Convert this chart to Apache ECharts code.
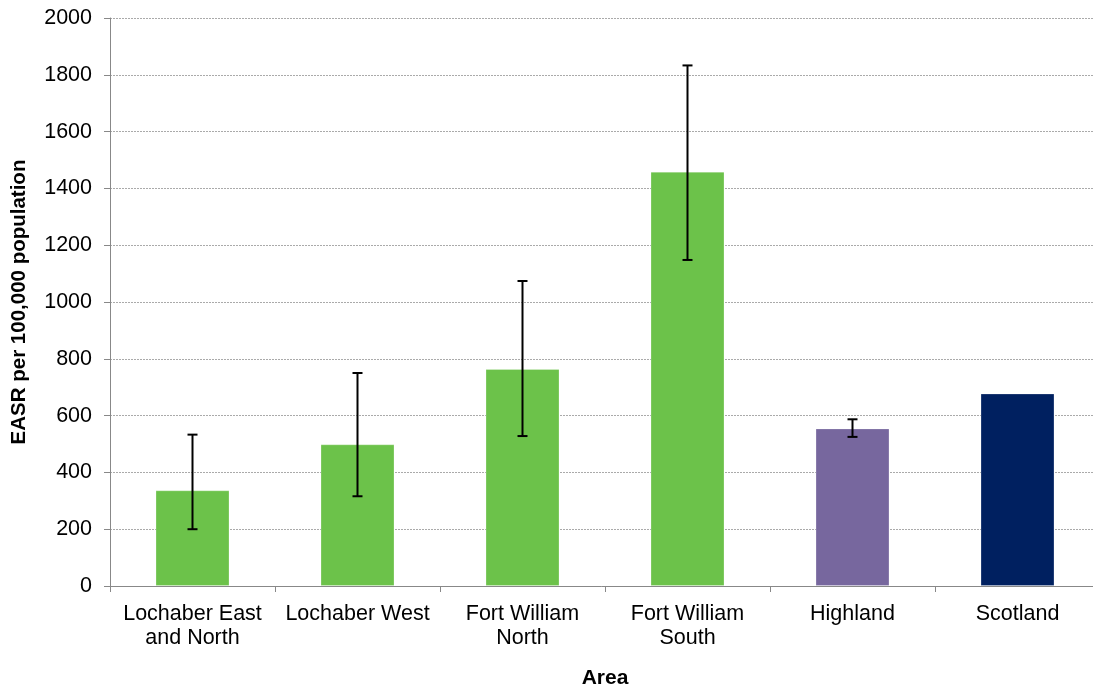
<!DOCTYPE html>
<html><head><meta charset="utf-8">
<script src="https://cdn.jsdelivr.net/npm/echarts@6/dist/echarts.min.js"></script>
<style>html,body{margin:0;padding:0;background:#fff;overflow:hidden}#c{width:1093px;height:688px}</style>
</head><body><div id="c"></div>
<script>
var categories = ['Lochaber East\nand North', 'Lochaber West', 'Fort William\nNorth', 'Fort William\nSouth', 'Highland', 'Scotland'];
var values = [337, 499, 764, 1459, 555, 678];
var lowerCI = [200, 316, 528, 1148, 525, null];
var upperCI = [533, 750, 1074, 1833, 587, null];
var barColors = ['#6CC24A', '#6CC24A', '#6CC24A', '#6CC24A', '#77679E', '#002060'];
var yTicks = {min: 0, max: 2000, interval: 200};

var errData = [];
for (var i = 0; i < categories.length; i++) {
  if (lowerCI[i] != null) errData.push([i, lowerCI[i], upperCI[i]]);
}

var chart = echarts.init(document.getElementById('c'));
chart.setOption({
  animation: false,
  grid: {left: 110, top: 18, width: 990, height: 568, containLabel: false, outerBoundsMode: 'none'},
  xAxis: {
    type: 'category', data: categories,
    name: 'Area', nameLocation: 'middle', nameGap: 82,
    nameTextStyle: {fontFamily: 'Liberation Sans', fontWeight: 'bold', fontSize: 21, color: '#000'},
    axisLine: {lineStyle: {color: '#888', width: 1}},
    axisTick: {show: true, length: 6, lineStyle: {color: '#888'}},
    axisLabel: {fontFamily: 'Liberation Sans', fontSize: 21.5, color: '#000', lineHeight: 24, margin: 16, interval: 0}
  },
  yAxis: {
    type: 'value', min: yTicks.min, max: yTicks.max, interval: yTicks.interval,
    name: 'EASR per 100,000 population', nameLocation: 'middle', nameGap: 80, nameRotate: 90,
    nameTextStyle: {fontFamily: 'Liberation Sans', fontWeight: 'bold', fontSize: 20.5, color: '#000'},
    axisLine: {show: true, lineStyle: {color: '#888', width: 1}},
    axisTick: {show: true, length: 6, lineStyle: {color: '#888'}},
    axisLabel: {fontFamily: 'Liberation Sans', fontSize: 21.5, color: '#000', margin: 18,
      formatter: function (v) { return String(v); }},
    splitLine: {lineStyle: {color: '#aaa', type: [2, 1], width: 1}}
  },
  series: [{
    type: 'bar', barWidth: 74,
    data: values.map(function (v, i) { return {value: v, itemStyle: {color: barColors[i]}}; }),
    itemStyle: {borderColor: 'rgba(255,255,255,0.25)', borderWidth: 1}
  }, {
    type: 'custom', data: errData, z: 10,
    renderItem: function (params, api) {
      var x = api.value(0);
      var lo = api.coord([x, api.value(1)]);
      var hi = api.coord([x, api.value(2)]);
      var hw = 5;
      var st = {stroke: '#000', lineWidth: 2};
      return {type: 'group', children: [
        {type: 'line', shape: {x1: lo[0], y1: lo[1], x2: hi[0], y2: hi[1]}, style: st},
        {type: 'line', shape: {x1: lo[0] - hw, y1: lo[1], x2: lo[0] + hw, y2: lo[1]}, style: st},
        {type: 'line', shape: {x1: hi[0] - hw, y1: hi[1], x2: hi[0] + hw, y2: hi[1]}, style: st}
      ]};
    }
  }]
});
</script></body></html>
